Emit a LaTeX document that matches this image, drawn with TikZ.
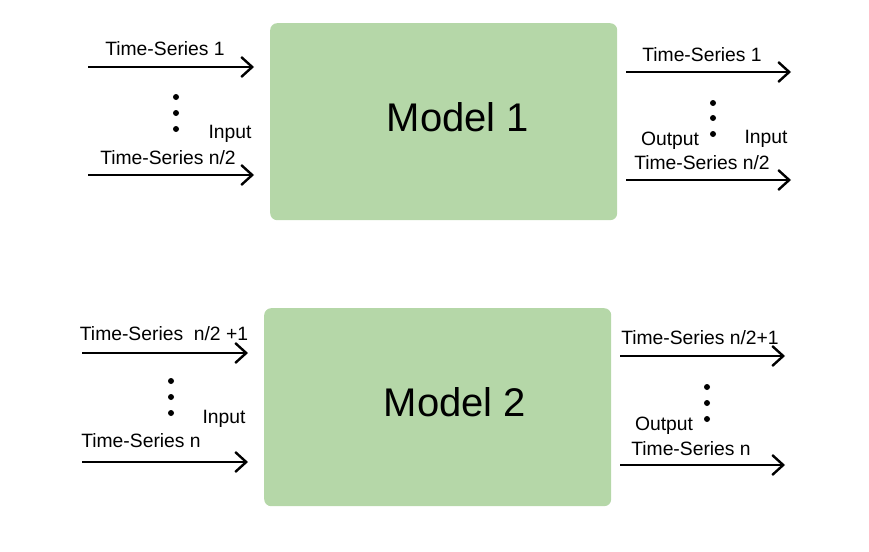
\documentclass[tikz,border=0pt]{standalone}
\usepackage{fontspec}
\setmainfont{Liberation Sans}
\usetikzlibrary{arrows.meta}
\definecolor{boxgreen}{HTML}{B5D7A8}
\tikzset{
  modelbox/.style={draw=none, fill=boxgreen, rounded corners=7pt, anchor=north west, inner sep=0pt},
  lbl/.style={font=\fontsize{19.3}{22}\selectfont, inner sep=0pt},
  bigl/.style={font=\fontsize{40}{46}\selectfont, inner sep=0pt},
  flow/.style={line width=2.4pt, -{Straight Barb[length=11pt,width=20pt,line width=2.4pt]}},
  dotp/.style={circle, fill=black, inner sep=0pt, minimum size=6pt}
}
\begin{document}
\begin{tikzpicture}[x=1pt,y=-1pt]
\useasboundingbox (0,0) rectangle (869,551);
% Model 1
\node[modelbox, minimum width=347pt, minimum height=197pt] (m1) at (270,23) {};
\node[bigl] (m1t) at (458,117) {Model 1};
% left inputs model 1
\coordinate (a1s) at (88,67); \coordinate (a1e) at (254,67);
\coordinate (a2s) at (88,175); \coordinate (a2e) at (254,175);
\draw[flow] (a1s) -- (a1e);
\draw[flow] (a2s) -- (a2e);
\node[lbl] (t1) at (165,49) {Time-Series 1};
\node[lbl] (t2) at (168,158) {Time-Series n/2};
\node[lbl] (in1) at (230,134) {Input};
\node[dotp] (d11) at (176,97) {};
\node[dotp] (d12) at (176,113) {};
\node[dotp] (d13) at (176,129) {};
% right outputs model 1
\coordinate (b1s) at (626,72); \coordinate (b1e) at (791,72);
\coordinate (b2s) at (626,180); \coordinate (b2e) at (791,180);
\draw[flow] (b1s) -- (b1e);
\draw[flow] (b2s) -- (b2e);
\node[lbl] (o1) at (702,55) {Time-Series 1};
\node[lbl] (o2) at (702,163) {Time-Series n/2};
\node[lbl] (out1) at (670,141) {Output};
\node[lbl] (in1b) at (766,139) {Input};
\node[dotp] (d21) at (713,103) {};
\node[dotp] (d22) at (713,118) {};
\node[dotp] (d23) at (713,134) {};
% Model 2
\node[modelbox, minimum width=347pt, minimum height=198pt] (m2) at (264,308) {};
\node[bigl] (m2t) at (455,402) {Model 2};
% left inputs model 2
\coordinate (c1s) at (82,353); \coordinate (c1e) at (248,353);
\coordinate (c2s) at (82,462); \coordinate (c2e) at (248,462);
\draw[flow] (c1s) -- (c1e);
\draw[flow] (c2s) -- (c2e);
\node[lbl] (t3) at (164,334) {Time-Series \ n/2 +1};
\node[lbl] (t4) at (141,441) {Time-Series n};
\node[lbl] (in2) at (224,419) {Input};
\node[dotp] (d31) at (171,381) {};
\node[dotp] (d32) at (171,397) {};
\node[dotp] (d33) at (171,413) {};
% right outputs model 2
\coordinate (e1s) at (620,356); \coordinate (e1e) at (785,356);
\coordinate (e2s) at (620,465); \coordinate (e2e) at (785,465);
\draw[flow] (e1s) -- (e1e);
\draw[flow] (e2s) -- (e2e);
\node[lbl] (o3) at (700,338) {Time-Series n/2+1};
\node[lbl] (o4) at (691,449) {Time-Series n};
\node[lbl] (out2) at (664,426) {Output};
\node[dotp] (d41) at (707,387) {};
\node[dotp] (d42) at (707,403) {};
\node[dotp] (d43) at (707,419) {};
\end{tikzpicture}
\end{document}
